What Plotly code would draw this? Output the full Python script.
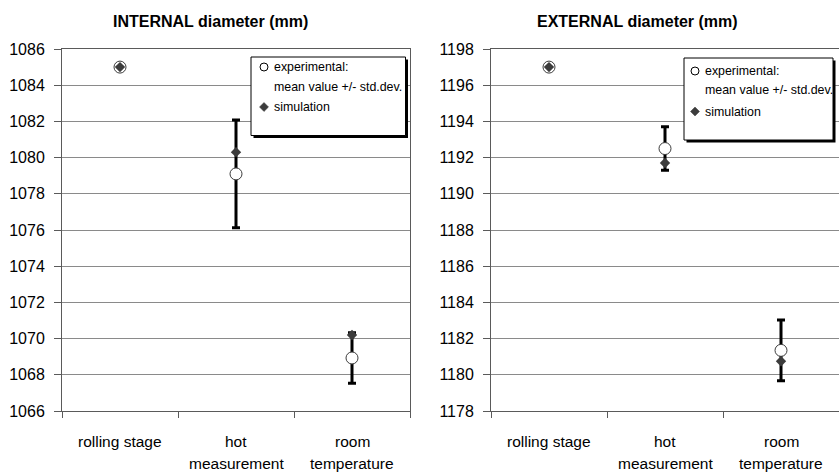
import plotly.graph_objects as go

# ---------------- data ----------------
categories = ["rolling stage", "hot measurement", "room temperature"]
label_line1 = ["rolling stage", "hot", "room"]
label_line2 = ["", "measurement", "temperature"]

int_exp_mean = [1085.0, 1079.1, 1068.93]
int_exp_std = [0.0, 2.98, 1.4]
int_sim = [1085.0, 1080.3, 1070.2]

ext_exp_mean = [1197.0, 1192.5, 1181.35]
ext_exp_std = [0.0, 1.2, 1.68]
ext_sim = [1197.0, 1191.7, 1180.75]

titles = ["INTERNAL diameter (mm)", "EXTERNAL diameter (mm)"]
legend_lines = ["experimental:", "mean value +/- std.dev.", "simulation"]

# ---------------- geometry helpers ----------------
W, H = 839, 473
MT, MB = 49, 62
PH = H - MT - MB


def PX(px):
    return px / W


def PY(py):
    return (H - MB - py) / PH


FONT = "Liberation Sans, Arial, sans-serif"
GRID = "#8a8a8a"
AXIS = "#5a5a5a"
MARK = "#3c3c3c"

fig = go.Figure()

panels = [
    dict(mean=int_exp_mean, std=int_exp_std, sim=int_sim, xa="x", ya="y"),
    dict(mean=ext_exp_mean, std=ext_exp_std, sim=ext_sim, xa="x2", ya="y2"),
]

for p in panels:
    fig.add_trace(go.Scatter(
        x=categories, y=p["mean"], mode="markers", xaxis=p["xa"], yaxis=p["ya"],
        marker=dict(symbol="circle", size=12, color="white",
                    line=dict(color=MARK, width=1)),
        error_y=dict(type="data", array=p["std"], visible=True,
                     color="black", thickness=3, width=4),
        showlegend=False,
    ))
    fig.add_trace(go.Scatter(
        x=categories, y=p["sim"], mode="markers", xaxis=p["xa"], yaxis=p["ya"],
        marker=dict(symbol="diamond", size=8, color=MARK),
        showlegend=False,
    ))

common_x = dict(type="category", range=[-0.5, 2.5], showgrid=False,
                showline=True, linecolor=AXIS, linewidth=1, mirror=True,
                ticks="outside", ticklen=6, tickcolor=AXIS, tickson="boundaries",
                showticklabels=False, fixedrange=True)
common_y = dict(dtick=2, showgrid=True, gridcolor=GRID, gridwidth=1,
                showline=True, linecolor=AXIS, linewidth=1, mirror=True,
                ticks="outside", ticklen=7, tickcolor=AXIS, zeroline=False,
                tickfont=dict(family=FONT, size=16, color="black"),
                ticklabelstandoff=6)

fig.update_layout(
    width=W, height=H,
    margin=dict(l=0, r=0, t=MT, b=MB),
    paper_bgcolor="white", plot_bgcolor="white",
    xaxis=dict(domain=[PX(62), PX(410)], anchor="y", **common_x),
    yaxis=dict(range=[1066, 1086], anchor="x", **common_y),
    xaxis2=dict(domain=[PX(491), 1.0], anchor="y2", **common_x),
    yaxis2=dict(range=[1178, 1198], anchor="x2", **common_y),
)

annotations = []
shapes = []

# titles
for t, cx in zip(titles, [210, 637.5]):
    annotations.append(dict(text="<b>%s</b>" % t, xref="paper", yref="paper",
                            x=PX(cx), y=PY(22), xanchor="center", yanchor="middle",
                            showarrow=False, font=dict(family=FONT, size=16, color="black")))

# category labels
for xa in ["x", "x2"]:
    for c, l1, l2 in zip(categories, label_line1, label_line2):
        annotations.append(dict(text=l1, xref=xa, yref="paper", x=c, y=PY(441.5),
                                xanchor="center", yanchor="middle", showarrow=False,
                                font=dict(family=FONT, size=15.5, color="black")))
        if l2:
            annotations.append(dict(text=l2, xref=xa, yref="paper", x=c, y=PY(463.5),
                                    xanchor="center", yanchor="middle", showarrow=False,
                                    font=dict(family=FONT, size=15.5, color="black")))

# custom legends
legends = [
    dict(x0=251, x1=405.5, y0=57, y1=135.5, sym_x=264, text_x=272, rows=[67, 87, 107]),
    dict(x0=684, x1=833, y0=58, y1=140, sym_x=695, text_x=703, rows=[71, 90, 111.5]),
]
for lg in legends:
    sh = 2.5
    shapes.append(dict(type="rect", xref="paper", yref="paper",
                       x0=PX(lg["x0"] + sh), x1=PX(lg["x1"] + sh),
                       y0=PY(lg["y0"] + sh), y1=PY(lg["y1"] + sh),
                       fillcolor="black", line=dict(width=0), layer="above"))
    shapes.append(dict(type="rect", xref="paper", yref="paper",
                       x0=PX(lg["x0"]), x1=PX(lg["x1"]),
                       y0=PY(lg["y0"]), y1=PY(lg["y1"]),
                       fillcolor="white", line=dict(color="black", width=1), layer="above"))
    sx = lg["sym_x"]
    r0 = lg["rows"][0]
    r = 4
    shapes.append(dict(type="circle", xref="paper", yref="paper",
                       x0=PX(sx - r), x1=PX(sx + r), y0=PY(r0 + r), y1=PY(r0 - r),
                       fillcolor="white", line=dict(color="black", width=1), layer="above"))
    r2 = lg["rows"][2]
    d = 4.5
    path = "M %f,%f L %f,%f L %f,%f L %f,%f Z" % (
        PX(sx - d), PY(r2), PX(sx), PY(r2 - d), PX(sx + d), PY(r2), PX(sx), PY(r2 + d))
    shapes.append(dict(type="path", xref="paper", yref="paper", path=path,
                       fillcolor=MARK, line=dict(color=MARK, width=0.5), layer="above"))
    for txt, ry in zip(legend_lines, lg["rows"]):
        annotations.append(dict(text=txt, xref="paper", yref="paper",
                                x=PX(lg["text_x"]), y=PY(ry), xanchor="left", yanchor="middle",
                                showarrow=False, font=dict(family=FONT, size=12.4, color="black")))

fig.update_layout(annotations=annotations, shapes=shapes)

fig.write_html("out.html")
